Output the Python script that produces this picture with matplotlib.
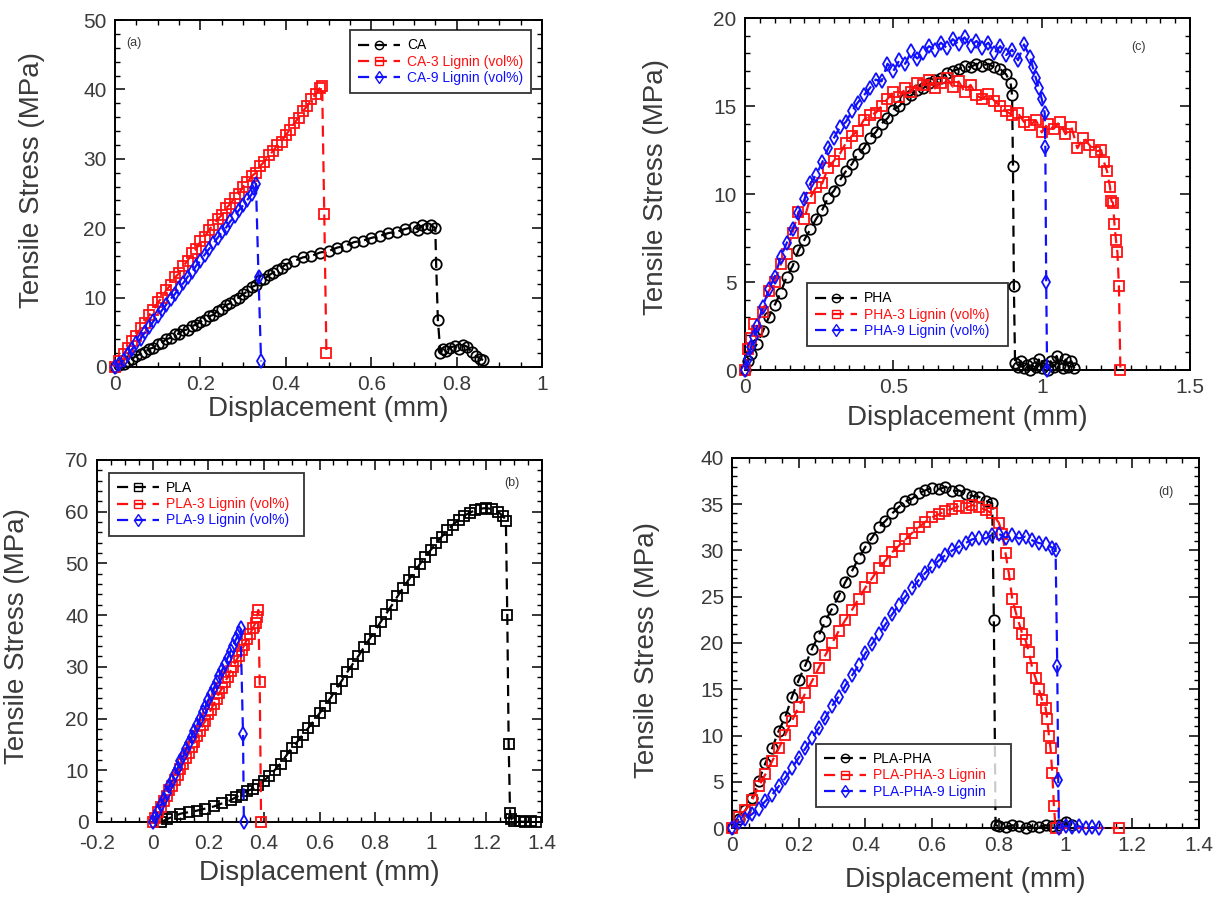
import numpy as np
import matplotlib
matplotlib.use('Agg')
from matplotlib import pyplot as plt
from matplotlib.ticker import MultipleLocator, FormatStrFormatter

plt.rcParams['font.family'] = ['Liberation Sans', 'DejaVu Sans']

# ---------------- (a) CA
ca_x = [0, .01, .02, .03, .04, .05, .06, .07, .08, .09, .10, .11, .12, .13, .14, .15, .16, .17, .18, .19,
        .20, .21, .22, .23, .24, .25, .26, .27, .28, .29, .30, .31, .32, .33, .34, .35, .36, .37, .38, .39,
        .40, .42, .44, .46, .48, .50, .52, .54, .56, .58, .60, .62, .64, .66, .68, .70, .71, .72, .73, .74,
        .75, .752, .756, .762, .768, .775, .785, .795, .805, .815, .825, .835, .845, .855, .862]
ca_y = [0, .3, .5, .9, 1.2, 1.6, 1.9, 2.2, 2.6, 2.8, 3.3, 3.5, 4.0, 4.2, 4.7, 4.8, 5.3, 5.4, 5.9, 6.1,
        6.5, 6.8, 7.3, 7.5, 8.1, 8.4, 8.9, 9.2, 9.7, 10.0, 10.5, 10.9, 11.5, 11.8, 12.5, 12.7, 13.2, 13.6, 14.0, 14.3,
        14.8, 15.3, 15.8, 16.0, 16.5, 16.7, 17.2, 17.5, 18.0, 18.2, 18.6, 18.9, 19.3, 19.5, 19.9, 20.2, 19.8, 20.4, 20.1, 20.5,
        20.0, 14.8, 6.8, 2.0, 2.6, 2.3, 2.8, 3.0, 2.6, 3.2, 2.9, 2.2, 1.6, 1.2, 1.0]
ca3_x = [0, .01, .02, .03, .04, .05, .06, .07, .08, .09, .10, .11, .12, .13, .14, .15, .16, .17, .18, .19,
         .20, .21, .22, .23, .24, .25, .26, .27, .28, .29, .30, .31, .32, .33, .34, .35, .36, .37, .38, .39,
         .40, .41, .42, .43, .44, .45, .46, .47, .48, .485, .49, .495]
ca3_y = [0, .8, 1.9, 2.7, 3.8, 4.5, 5.6, 6.3, 7.5, 8.2, 9.3, 10.0, 11.1, 11.8, 12.9, 13.5, 14.6, 15.3, 16.4, 17.0,
         18.1, 18.7, 19.8, 20.4, 21.3, 21.9, 22.9, 23.5, 24.4, 25.0, 26.0, 26.6, 27.5, 28.0, 29.0, 29.6, 30.5, 31.1, 32.0, 32.5,
         33.5, 34.2, 35.2, 35.9, 36.9, 37.6, 38.6, 39.3, 40.2, 40.5, 22.0, 2.0]
ca9_x = [0, .01, .02, .03, .04, .05, .06, .07, .08, .09, .10, .11, .12, .13, .14, .15, .16, .17, .18, .19,
         .20, .21, .22, .23, .24, .25, .26, .27, .28, .29, .30, .31, .32, .325, .33, .336, .342]
ca9_y = [0, .4, 1.0, 1.8, 2.6, 3.4, 4.1, 5.0, 5.7, 6.6, 7.3, 8.2, 9.0, 9.8, 10.5, 11.4, 12.1, 13.0, 13.7, 14.6,
         15.3, 16.2, 17.0, 17.8, 18.6, 19.4, 20.1, 21.0, 21.7, 22.6, 23.3, 24.1, 24.9, 25.8, 26.4, 13.0, 0.8]

# ---------------- (c) PHA
pha_x = [0, .01, .02, .04, .06, .08, .10, .12, .14, .16, .18, .20, .22, .24, .26, .28, .30, .32, .34, .36,
         .38, .40, .42, .44, .46, .48, .50, .52, .54, .56, .58, .60, .62, .64, .66, .68, .70, .72, .74, .76,
         .78, .80, .82, .84, .86, .88, .895, .90, .903, .906, .91, .92, .93, .94, .95, .96, .97, .98, .99, 1.0,
         1.01, 1.02, 1.03, 1.04, 1.05, 1.06, 1.07, 1.08, 1.09, 1.10, 1.11]
pha_y = [0, .5, .9, 1.5, 2.2, 3.0, 3.7, 4.4, 5.3, 5.9, 6.8, 7.4, 8.0, 8.6, 9.1, 9.8, 10.2, 10.8, 11.3, 11.7,
         12.3, 12.6, 13.2, 13.5, 14.0, 14.3, 14.8, 15.0, 15.4, 15.6, 15.9, 16.0, 16.3, 16.5, 16.6, 16.9, 17.0, 17.1, 17.3, 17.2,
         17.4, 17.3, 17.4, 17.2, 17.1, 16.8, 16.3, 15.6, 11.6, 4.8, 0.4, 0.2, 0.5, 0.1, 0.3, 0.0, 0.4, 0.2, 0.6, 0.1,
         0.3, 0.0, 0.5, 0.2, 0.8, 0.3, 0.1, 0.6, 0.2, 0.5, 0.1]
pha3_x = [0, .01, .02, .03, .04, .06, .08, .10, .12, .14, .16, .18, .20, .22, .24, .26, .28, .30, .32, .34,
          .36, .38, .40, .42, .44, .46, .48, .50, .52, .54, .56, .58, .60, .62, .64, .66, .68, .70, .72, .74,
          .76, .78, .80, .82, .84, .86, .88, .90, .92, .94, .96, .98, 1.00, 1.02, 1.04, 1.06, 1.08, 1.10, 1.12, 1.14,
          1.16, 1.18, 1.20, 1.21, 1.22, 1.23, 1.235, 1.24, 1.245, 1.25, 1.255, 1.26, 1.265]
pha3_y = [0, 1.2, 1.8, 2.6, 2.2, 3.3, 4.5, 5.0, 6.0, 6.6, 7.8, 9.0, 8.6, 9.8, 10.4, 10.6, 11.5, 11.9, 12.3, 12.9,
          13.3, 13.6, 14.2, 14.5, 14.6, 15.0, 15.4, 15.8, 15.5, 16.0, 15.8, 16.3, 16.2, 16.5, 16.0, 16.3, 16.6, 16.1, 16.4, 15.8,
          16.2, 15.6, 15.4, 15.7, 15.3, 15.0, 14.7, 14.5, 14.6, 14.1, 13.9, 14.2, 13.5, 14.0, 13.7, 14.1, 13.4, 13.8, 12.6, 13.2,
          12.8, 12.4, 12.5, 11.8, 11.3, 10.4, 9.6, 9.5, 8.3, 7.4, 6.7, 4.8, 0.0]
pha9_x = [0, .01, .02, .03, .04, .06, .08, .10, .12, .14, .16, .18, .20, .22, .24, .26, .28, .30, .32, .34,
          .36, .38, .40, .42, .44, .46, .48, .50, .52, .54, .56, .58, .60, .62, .64, .66, .68, .70, .72, .74,
          .76, .78, .80, .82, .84, .86, .88, .90, .92, .94, .96, .97, .98, .99, 1.0, 1.01, 1.012, 1.015, 1.018]
pha9_y = [0, .6, 1.3, 1.9, 2.5, 3.6, 4.6, 5.3, 6.4, 7.2, 8.0, 8.9, 9.7, 10.6, 11.1, 11.8, 12.6, 13.2, 13.8, 14.1,
          14.7, 15.2, 15.6, 16.0, 16.5, 16.4, 17.4, 17.0, 17.6, 17.4, 18.1, 17.7, 18.0, 18.4, 18.2, 18.6, 18.3, 18.8, 18.5, 18.9,
          18.4, 18.7, 18.3, 18.6, 18.0, 18.4, 17.9, 18.2, 17.6, 18.5, 17.8, 17.2, 16.6, 16.0, 15.4, 14.6, 12.7, 5.0, 0.0]

# ---------------- (b) PLA
pla_x = [.03, .05, .07, .10, .13, .16, .19, .22, .25, .28, .30, .32, .34, .36, .38, .40, .42, .44, .46, .48,
         .50, .52, .54, .56, .58, .60, .62, .64, .66, .68, .70, .72, .74, .76, .78, .80, .82, .84, .86, .88,
         .90, .92, .94, .96, .98, 1.00, 1.02, 1.04, 1.06, 1.08, 1.10, 1.12, 1.14, 1.16, 1.18, 1.20, 1.22, 1.24, 1.26, 1.27,
         1.275, 1.28, 1.285, 1.29, 1.30, 1.32, 1.34, 1.36, 1.38]
pla_y = [0, .5, 1.0, 1.6, 1.9, 2.2, 2.6, 3.0, 3.6, 4.2, 4.8, 5.3, 6.0, 6.4, 7.1, 8.0, 8.9, 10.1, 11.3, 12.8,
         14.3, 15.5, 16.9, 18.2, 19.6, 21.0, 22.5, 24.0, 25.7, 27.3, 29.0, 30.6, 32.1, 33.8, 35.4, 37.0, 38.7, 40.3, 41.9, 43.6,
         45.2, 46.8, 48.3, 49.8, 51.2, 52.6, 54.0, 55.2, 56.4, 57.5, 58.4, 59.2, 59.8, 60.3, 60.6, 60.7, 60.5, 60.0, 59.2, 58.2,
         40.0, 15.0, 1.8, 0.5, 0.2, 0.1, 0.0, 0.1, 0.0]
pla3_x = [0, .01, .02, .03, .04, .05, .06, .07, .08, .09, .10, .11, .12, .13, .14, .15, .16, .17, .18, .19,
          .20, .21, .22, .23, .24, .25, .26, .27, .28, .29, .30, .31, .32, .33, .34, .35, .36, .37, .375, .38,
          .385, .39]
pla3_y = [0, .8, 1.9, 2.9, 4.0, 5.0, 6.1, 7.0, 8.2, 9.1, 10.3, 11.2, 12.4, 13.3, 14.5, 15.4, 16.6, 17.5, 18.7, 19.6,
          20.8, 21.7, 22.9, 23.8, 25.0, 25.9, 27.1, 28.0, 29.2, 30.0, 31.2, 32.1, 33.3, 34.2, 35.4, 36.3, 37.5, 38.5, 39.6, 41.0,
          27.0, 0.0]
pla9_x = [0, .01, .02, .03, .04, .05, .06, .07, .08, .09, .10, .11, .12, .13, .14, .15, .16, .17, .18, .19,
          .20, .21, .22, .23, .24, .25, .26, .27, .28, .29, .30, .31, .316, .325, .328]
pla9_y = [0, 1.0, 2.2, 3.3, 4.5, 5.7, 6.9, 8.0, 9.3, 10.4, 11.7, 12.8, 14.1, 15.2, 16.5, 17.6, 18.8, 20.0, 21.2, 22.3,
          23.6, 24.7, 25.9, 27.0, 28.3, 29.4, 30.6, 31.8, 33.0, 34.1, 35.4, 36.5, 37.5, 17.0, 0.0]

# ---------------- (d) PLA-PHA
plapha_x = [0, .02, .04, .06, .08, .10, .12, .14, .16, .18, .20, .22, .24, .26, .28, .30, .32, .34, .36, .38,
            .40, .42, .44, .46, .48, .50, .52, .54, .56, .58, .60, .62, .64, .66, .68, .70, .72, .74, .76, .78,
            .785, .79, .80, .82, .84, .86, .88, .90, .92, .94, .96, .98, 1.00, 1.02]
plapha_y = [0, 1.0, 1.9, 3.2, 5.1, 7.0, 8.6, 10.5, 12.0, 14.2, 16.0, 17.6, 19.4, 20.8, 22.4, 23.7, 25.1, 26.6, 27.8, 29.2,
            30.4, 31.4, 32.5, 33.2, 34.0, 34.7, 35.3, 35.6, 36.2, 36.5, 36.8, 36.6, 36.9, 36.4, 36.5, 36.1, 35.9, 35.8, 35.4, 35.1,
            22.5, 0.3, 0.2, 0.1, 0.3, 0.2, 0.0, 0.2, 0.1, 0.3, 0.2, 0.3, 0.6, 0.3]
plapha3_x = [0, .02, .04, .06, .08, .10, .12, .14, .16, .18, .20, .22, .24, .26, .28, .30, .32, .34, .36, .38,
             .40, .42, .44, .46, .48, .50, .52, .54, .56, .58, .60, .62, .64, .66, .68, .70, .72, .74, .76, .78,
             .80, .81, .82, .83, .84, .85, .86, .87, .88, .89, .90, .91, .92, .93, .94, .945, .95, .955, .96, .965,
             .97, 1.16]
plapha3_y = [0, 1.2, 1.9, 3.0, 4.5, 5.8, 7.2, 8.6, 10.1, 11.6, 13.1, 14.6, 15.9, 17.3, 18.7, 20.0, 21.3, 22.5, 23.6, 24.8,
             26.0, 27.0, 28.1, 28.9, 29.8, 30.5, 31.2, 31.9, 32.5, 33.1, 33.6, 33.9, 34.3, 34.5, 34.8, 34.6, 34.9, 34.7, 34.4, 34.0,
             33.0, 31.8, 29.7, 27.5, 24.8, 23.4, 22.2, 21.0, 20.3, 19.0, 17.3, 16.2, 15.0, 13.8, 13.0, 11.8, 10.0, 8.6, 6.0, 2.4,
             0.0, 0.0]
plapha9_x = [0, .02, .04, .06, .08, .10, .12, .14, .16, .18, .20, .22, .24, .26, .28, .30, .32, .34, .36, .38,
             .40, .42, .44, .46, .48, .50, .52, .54, .56, .58, .60, .62, .64, .66, .68, .70, .72, .74, .76, .78,
             .80, .82, .84, .86, .88, .90, .92, .94, .96, .97, .975, .978, .98, 1.00, 1.02, 1.04, 1.06, 1.08, 1.10]
plapha9_y = [0, .6, 1.0, 1.5, 2.1, 2.9, 3.6, 4.5, 5.4, 6.5, 7.6, 8.6, 9.7, 10.8, 11.9, 13.2, 14.2, 15.4, 16.5, 17.6,
             18.9, 19.9, 21.0, 22.0, 23.1, 24.1, 25.0, 25.9, 26.8, 27.6, 28.3, 28.9, 29.5, 30.0, 30.4, 30.8, 31.2, 31.4, 31.3, 31.7,
             31.8, 31.4, 31.7, 31.3, 31.5, 31.1, 30.8, 30.7, 30.3, 30.1, 17.5, 5.2, 0.0, 0.2, 0.1, 0.2, 0.0, 0.1, 0.0]

labels_a = ['CA', 'CA-3 Lignin (vol%)', 'CA-9 Lignin (vol%)']
labels_c = ['PHA', 'PHA-3 Lignin (vol%)', 'PHA-9 Lignin (vol%)']
labels_b = ['PLA', 'PLA-3 Lignin (vol%)', 'PLA-9 Lignin (vol%)']
labels_d = ['PLA-PHA', 'PLA-PHA-3 Lignin', 'PLA-PHA-9 Lignin']

colors = ['black', '#ff1010', '#1010ff']
tcol = '#3a3a3a'


def draw(ax, series, markers, labels, xlim, ylim, xmaj, ymaj, ymin, leg_box, tag, tag_xy, ylab_xy, xlab_y, xpad=6):
    for (x, y), m, c, lab in zip(series, markers, colors, labels):
        ax.plot(x, y, ls='--', dashes=(5, 3), lw=1.6, color=c, marker=m, ms=7.5 if m != 'd' else 7,
                mfc='none', mec=c, mew=1.3, label=lab, clip_on=False, zorder=3)
    ax.set_xlim(xlim)
    ax.set_ylim(ylim)
    ax.xaxis.set_major_locator(MultipleLocator(xmaj))
    ax.xaxis.set_minor_locator(MultipleLocator(0.05))
    ax.yaxis.set_major_locator(MultipleLocator(ymaj))
    ax.yaxis.set_minor_locator(MultipleLocator(ymin))
    ax.xaxis.set_major_formatter(FormatStrFormatter('%g'))
    ax.tick_params(which='both', direction='in', top=True, right=True, colors='black', labelcolor=tcol,
                   labelsize=15, pad=6)
    ax.tick_params(axis='x', which='major', pad=xpad)
    ax.tick_params(which='major', length=7, width=1.1)
    ax.tick_params(which='minor', length=3.5, width=1.0)
    for s in ax.spines.values():
        s.set_linewidth(1.4)
    ax.set_ylabel('Tensile Stress (MPa)', fontsize=20, color=tcol)
    ax.set_xlabel('Displacement (mm)', fontsize=20, color=tcol)
    ax.yaxis.set_label_coords(ylab_xy[0], ylab_xy[1])
    ax.xaxis.set_label_coords(0.5, xlab_y)
    leg = ax.legend(loc='upper left', bbox_to_anchor=leg_box, mode='expand', fontsize=10, frameon=True,
                    fancybox=False, edgecolor='black', borderaxespad=0, handlelength=3, numpoints=1,
                    labelspacing=0.15, borderpad=0.6, handletextpad=0.5)
    leg.get_frame().set_linewidth(1.3)
    leg.set_zorder(5)
    for h in leg.get_lines():
        h.set_markersize(6)
        h.set_markeredgewidth(1.0)
    for t, c in zip(leg.get_texts(), colors):
        t.set_color(c)
    ax.text(tag_xy[0], tag_xy[1], tag, transform=ax.transAxes, fontsize=9, color=tcol, ha='center', va='center')


fig = plt.figure(figsize=(12.2, 9.01), dpi=100)

ax_a = fig.add_axes([0.0943, 0.5927, 0.350, 0.385])
draw(ax_a, [(ca_x, ca_y), (ca3_x, ca3_y), (ca9_x, ca9_y)], ['o', 's', 'd'], labels_a,
     (0, 1), (0, 50), 0.2, 10, 2, (0.55, 0.79, 0.424, 0.181), '(a)', (0.045, 0.935), (-0.165, 0.54), -0.085)

ax_c = fig.add_axes([0.6107, 0.5893, 0.3648, 0.3907])
draw(ax_c, [(pha_x, pha_y), (pha3_x, pha3_y), (pha9_x, pha9_y)], ['o', 's', 'd'], labels_c,
     (0, 1.5), (0, 20), 0.5, 5, 1, (0.139, 0.065, 0.452, 0.182), '(c)', (0.883, 0.918), (-0.172, 0.52), -0.1)

ax_b = fig.add_axes([0.0795, 0.0877, 0.3648, 0.4018])
draw(ax_b, [(pla_x, pla_y), (pla3_x, pla3_y), (pla9_x, pla9_y)], ['s', 's', 'd'], labels_b,
     (-0.2, 1.4), (0, 70), 0.2, 10, 2, (0.027, 0.779, 0.438, 0.185), '(b)', (0.933, 0.936), (-0.15, 0.515), -0.105,
     xpad=9)

ax_d = fig.add_axes([0.6, 0.081, 0.3828, 0.4107])
draw(ax_d, [(plapha_x, plapha_y), (plapha3_x, plapha3_y), (plapha9_x, plapha9_y)], ['o', 's', 'd'], labels_d,
     (0, 1.4), (0, 40), 0.2, 5, 1, (0.18, 0.043, 0.417, 0.184), '(d)', (0.93, 0.908), (-0.154, 0.48), -0.105)

fig.savefig('out.png', dpi=100)
